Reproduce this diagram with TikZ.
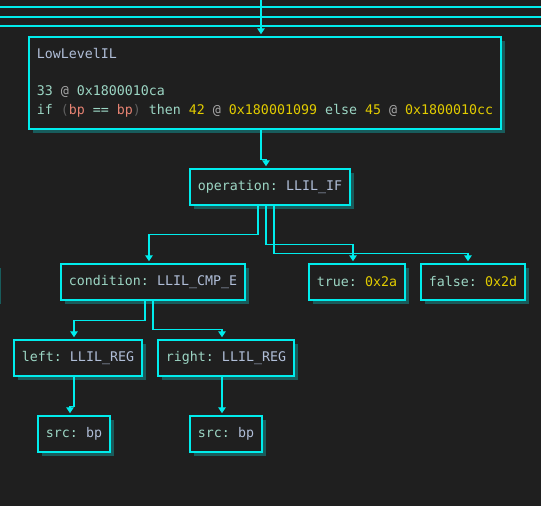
\documentclass[tikz,border=0pt]{standalone}
\usepackage{fontspec}
\setmonofont{DejaVu Sans Mono}
\usetikzlibrary{arrows.meta,shadows,calc}
\definecolor{bgc}{RGB}{31,31,31}
\definecolor{cyanc}{RGB}{0,236,236}
\definecolor{shadc}{RGB}{24,92,92}
\definecolor{mint}{RGB}{156,214,196}
\definecolor{bluegray}{RGB}{176,190,216}
\definecolor{yel}{RGB}{226,204,0}
\definecolor{salm}{RGB}{230,130,114}
\definecolor{grayat}{RGB}{165,165,165}
\definecolor{paren}{RGB}{95,95,95}
\newcommand{\K}[1]{\textcolor{mint}{#1}}
\newcommand{\V}[1]{\textcolor{bluegray}{#1}}
\newcommand{\Y}[1]{\textcolor{yel}{#1}}
\newcommand{\R}[1]{\textcolor{salm}{#1}}
\newcommand{\G}[1]{\textcolor{grayat}{#1}}
\newcommand{\Pp}[1]{\textcolor{paren}{#1}}
\tikzset{
  ilbox/.style={draw=cyanc, fill=bgc, line width=1.5pt, inner sep=0pt,
    minimum height=36pt, text=mint,
    font=\ttfamily\fontsize{13.3}{18.5}\selectfont,
    drop shadow={shadow xshift=4pt, shadow yshift=-4pt, fill=shadc, draw=none, opacity=1}},
  conn/.style={draw=cyanc, line width=1.4pt, shorten >=2pt,
    -{Triangle[width=7.5pt,length=6pt]}},
  plainline/.style={draw=cyanc, line width=1.4pt}
}
\begin{document}
\begin{tikzpicture}[x=1pt,y=-1pt]
\fill[bgc] (0,0) rectangle (541,506);
\useasboundingbox (0,0) rectangle (541,506);
\begin{scope}
\clip (0,0) rectangle (541,506);
% lines at the top
\coordinate (h1a) at (0,7); \coordinate (h1b) at (541,7);
\coordinate (h2a) at (0,17); \coordinate (h2b) at (541,17);
\coordinate (h3a) at (0,26); \coordinate (h3b) at (541,26);
\draw[plainline] (h1a) -- (h1b);
\draw[plainline] (h2a) -- (h2b);
\draw[plainline] (h3a) -- (h3b);
% off-screen box on the left
\node[ilbox, minimum width=100pt] (offl) at (-53,282) {};
% nodes
\node[ilbox, minimum width=472pt, minimum height=92pt, align=left, text=bluegray] (top) at (265,83)
  {LowLevelIL\\[0pt]\strut\\[0pt]\K{33} \G{@} \K{0x1800010ca}\\[0pt]\K{if} \Pp{(}\R{bp} \K{==} \R{bp}\Pp{)} \K{then} \Y{42} \G{@} \Y{0x180001099} \K{else} \Y{45} \G{@} \Y{0x1800010cc}};
\node[ilbox, minimum width=160pt] (op) at (270,187) {operation: \V{LLIL\_IF}};
\node[ilbox, minimum width=184pt] (cond) at (153,282) {condition: \V{LLIL\_CMP\_E}};
\node[ilbox, minimum width=96pt] (tru) at (357,282) {true: \Y{0x2a}};
\node[ilbox, minimum width=104pt] (fal) at (473,282) {false: \Y{0x2d}};
\node[ilbox, minimum width=128pt] (lft) at (78,358) {left: \V{LLIL\_REG}};
\node[ilbox, minimum width=136pt] (rgt) at (226,358) {right: \V{LLIL\_REG}};
\node[ilbox, minimum width=72pt] (srca) at (74,434) {src: \V{bp}};
\node[ilbox, minimum width=72pt] (srcb) at (226,434) {src: \V{bp}};
% connectors
\coordinate (topin) at (261,0);
\draw[conn] (topin) -- (topin |- top.north);
\draw[conn] ([xshift=-4pt]top.south) -- ++(0,30) -| ([xshift=-4pt]op.north);
\draw[conn] ([xshift=-12pt]op.south) -- ++(0,29) -| ([xshift=-4pt]cond.north);
\draw[conn] ([xshift=-4pt]op.south) -- ++(0,39) -| ([xshift=-4pt]tru.north);
\draw[conn] ([xshift=4pt]op.south) -- ++(0,48) -| ([xshift=-5pt]fal.north);
\draw[conn] ([xshift=-8pt]cond.south) -- ++(0,20) -| ([xshift=-4pt]lft.north);
\draw[conn] ([xshift=0pt]cond.south) -- ++(0,29) -| ([xshift=-4pt]rgt.north);
\draw[conn] ([xshift=-4pt]lft.south) -- ++(0,30) -| ([xshift=-4pt]srca.north);
\draw[conn] ([xshift=-4pt]rgt.south) -- ([xshift=-4pt]srcb.north);
\end{scope}
\end{tikzpicture}
\end{document}
